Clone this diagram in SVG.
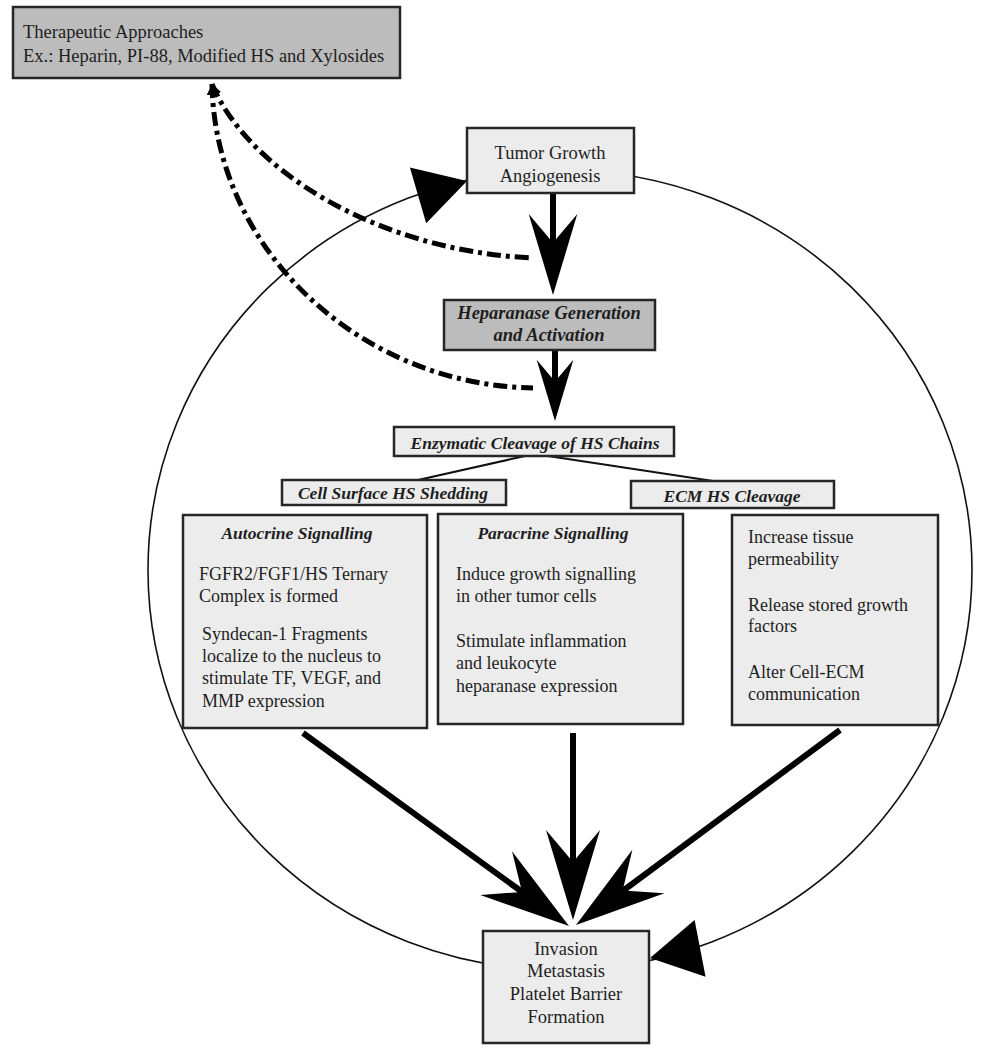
<svg xmlns="http://www.w3.org/2000/svg" xmlns:xlink="http://www.w3.org/1999/xlink" width="988" height="1050" viewBox="0 0 988 1050">
<style>
  text { font-family: "Liberation Serif", "Times New Roman", serif; fill: #1e1e1e; }
  .reg { font-size: 18.5px; }
  .body { font-size: 18px; }
  .bi { font-size: 17.5px; font-weight: bold; font-style: italic; }
  .mid { text-anchor: middle; }
  .light { fill: #ececec; stroke: #262626; stroke-width: 2.5; }
  .dark { fill: #bcbcbc; stroke: #262626; stroke-width: 2.5; }
  .shaft { stroke: #000; stroke-width: 6; fill: none; }
  .thin { stroke: #111; stroke-width: 1.6; fill: none; }
  .dd { stroke: #000; stroke-width: 5; fill: none; stroke-dasharray: 14 5 4 5; }
  .link { stroke: #111; stroke-width: 2; fill: none; }
</style>
<defs>
  <path id="stealth" d="M0,0 L-90,-27 L-58,0 L-90,27 Z" fill="#000"/>
  <path id="tri" d="M0,0 L-51,-29 L-51,29 Z" fill="#000"/>
  <marker id="dhead" viewBox="0 0 10 10" refX="10" refY="5" markerWidth="11" markerHeight="11" markerUnits="userSpaceOnUse" orient="auto-start-reverse">
    <path d="M0,0 L10,5 L0,10 Z" fill="#000"/>
  </marker>
</defs>
<rect width="988" height="1050" fill="#ffffff"/>

<g id="connectors">
  <!-- cycle ellipse -->
  <ellipse cx="560" cy="570" rx="412" ry="400" class="thin"/>
  <use xlink:href="#tri" transform="translate(467,181) rotate(-16.3)"/>
  <use xlink:href="#tri" transform="translate(650,958) rotate(169.1)"/>

  <!-- therapeutic inhibition dash-dot lines -->
  <path class="dd" d="M212,84 C245,165 370,250 532,258" marker-start="url(#dhead)"/>
  <path class="dd" d="M212,84 C215,250 360,385 533,388" marker-start="url(#dhead)"/>

  <!-- Tumor -> Heparanase -->
  <line class="shaft" x1="553" y1="193" x2="553" y2="250"/>
  <use xlink:href="#stealth" transform="translate(553,295) rotate(90) scale(0.9)"/>

  <!-- Heparanase -> Enzymatic -->
  <line class="shaft" x1="555" y1="350" x2="555" y2="385"/>
  <use xlink:href="#stealth" transform="translate(555,421) rotate(90) scale(0.68)"/>

  <!-- Enzymatic -> branches -->
  <line class="link" x1="525" y1="456" x2="418" y2="480"/>
  <line class="link" x1="548" y1="456" x2="713" y2="481"/>

  <!-- three arrows into Invasion -->
  <line class="shaft" x1="303" y1="733" x2="525" y2="894"/>
  <use xlink:href="#stealth" transform="translate(569,926) rotate(35.96)"/>
  <line class="shaft" x1="573" y1="733" x2="573" y2="865"/>
  <use xlink:href="#stealth" transform="translate(573,920) rotate(90)"/>
  <line class="shaft" x1="840" y1="730" x2="620" y2="893"/>
  <use xlink:href="#stealth" transform="translate(576,925) rotate(143.55)"/>
</g>

<g id="therapeutic">
  <rect class="dark" x="13" y="7" width="387" height="71"/>
  <text class="reg" x="23" y="38">Therapeutic Approaches</text>
  <text class="reg" x="23" y="62">Ex.: Heparin, PI-88, Modified HS and Xylosides</text>
</g>

<g id="tumor">
  <rect class="light" x="467" y="128" width="167" height="65"/>
  <text class="reg mid" x="550" y="159">Tumor Growth</text>
  <text class="reg mid" x="550" y="182">Angiogenesis</text>
</g>

<g id="heparanase">
  <rect class="dark" x="444" y="300" width="211" height="50"/>
  <text class="bi mid" x="549" y="319" style="font-size:18.5px">Heparanase Generation</text>
  <text class="bi mid" x="549" y="341" style="font-size:18.5px">and Activation</text>
</g>

<g id="enzymatic">
  <rect class="light" x="394" y="427" width="280" height="29"/>
  <text class="bi mid" x="535" y="449">Enzymatic Cleavage of HS Chains</text>
</g>

<g id="cell-surface">
  <rect class="light" x="282" y="480" width="224" height="25"/>
  <text class="bi mid" x="393" y="499">Cell Surface HS Shedding</text>
</g>

<g id="ecm-cleavage">
  <rect class="light" x="631" y="481" width="203" height="27"/>
  <text class="bi mid" x="732" y="502">ECM HS Cleavage</text>
</g>

<g id="autocrine">
  <rect class="light" x="183" y="515" width="244" height="213"/>
  <text class="bi mid" x="297" y="539">Autocrine Signalling</text>
  <text class="body" x="199" y="580">FGFR2/FGF1/HS Ternary</text>
  <text class="body" x="199" y="602">Complex is formed</text>
  <text class="body" x="202" y="640">Syndecan-1 Fragments</text>
  <text class="body" x="202" y="662">localize to the nucleus to</text>
  <text class="body" x="202" y="684">stimulate TF, VEGF, and</text>
  <text class="body" x="202" y="707">MMP expression</text>
</g>

<g id="paracrine">
  <rect class="light" x="438" y="514" width="245" height="210"/>
  <text class="bi mid" x="553" y="539">Paracrine Signalling</text>
  <text class="body" x="456" y="580">Induce growth signalling</text>
  <text class="body" x="456" y="602">in other tumor cells</text>
  <text class="body" x="456" y="647">Stimulate inflammation</text>
  <text class="body" x="456" y="669">and leukocyte</text>
  <text class="body" x="456" y="692">heparanase expression</text>
</g>

<g id="ecm-effects">
  <rect class="light" x="732" y="515" width="206" height="210"/>
  <text class="body" x="748" y="543">Increase tissue</text>
  <text class="body" x="748" y="565">permeability</text>
  <text class="body" x="748" y="611">Release stored growth</text>
  <text class="body" x="748" y="632">factors</text>
  <text class="body" x="748" y="678">Alter Cell-ECM</text>
  <text class="body" x="748" y="700">communication</text>
</g>

<g id="invasion">
  <rect class="light" x="483" y="931" width="166" height="112"/>
  <text class="reg mid" x="566" y="955">Invasion</text>
  <text class="reg mid" x="566" y="977">Metastasis</text>
  <text class="reg mid" x="566" y="1000">Platelet Barrier</text>
  <text class="reg mid" x="566" y="1023">Formation</text>
</g>
</svg>
